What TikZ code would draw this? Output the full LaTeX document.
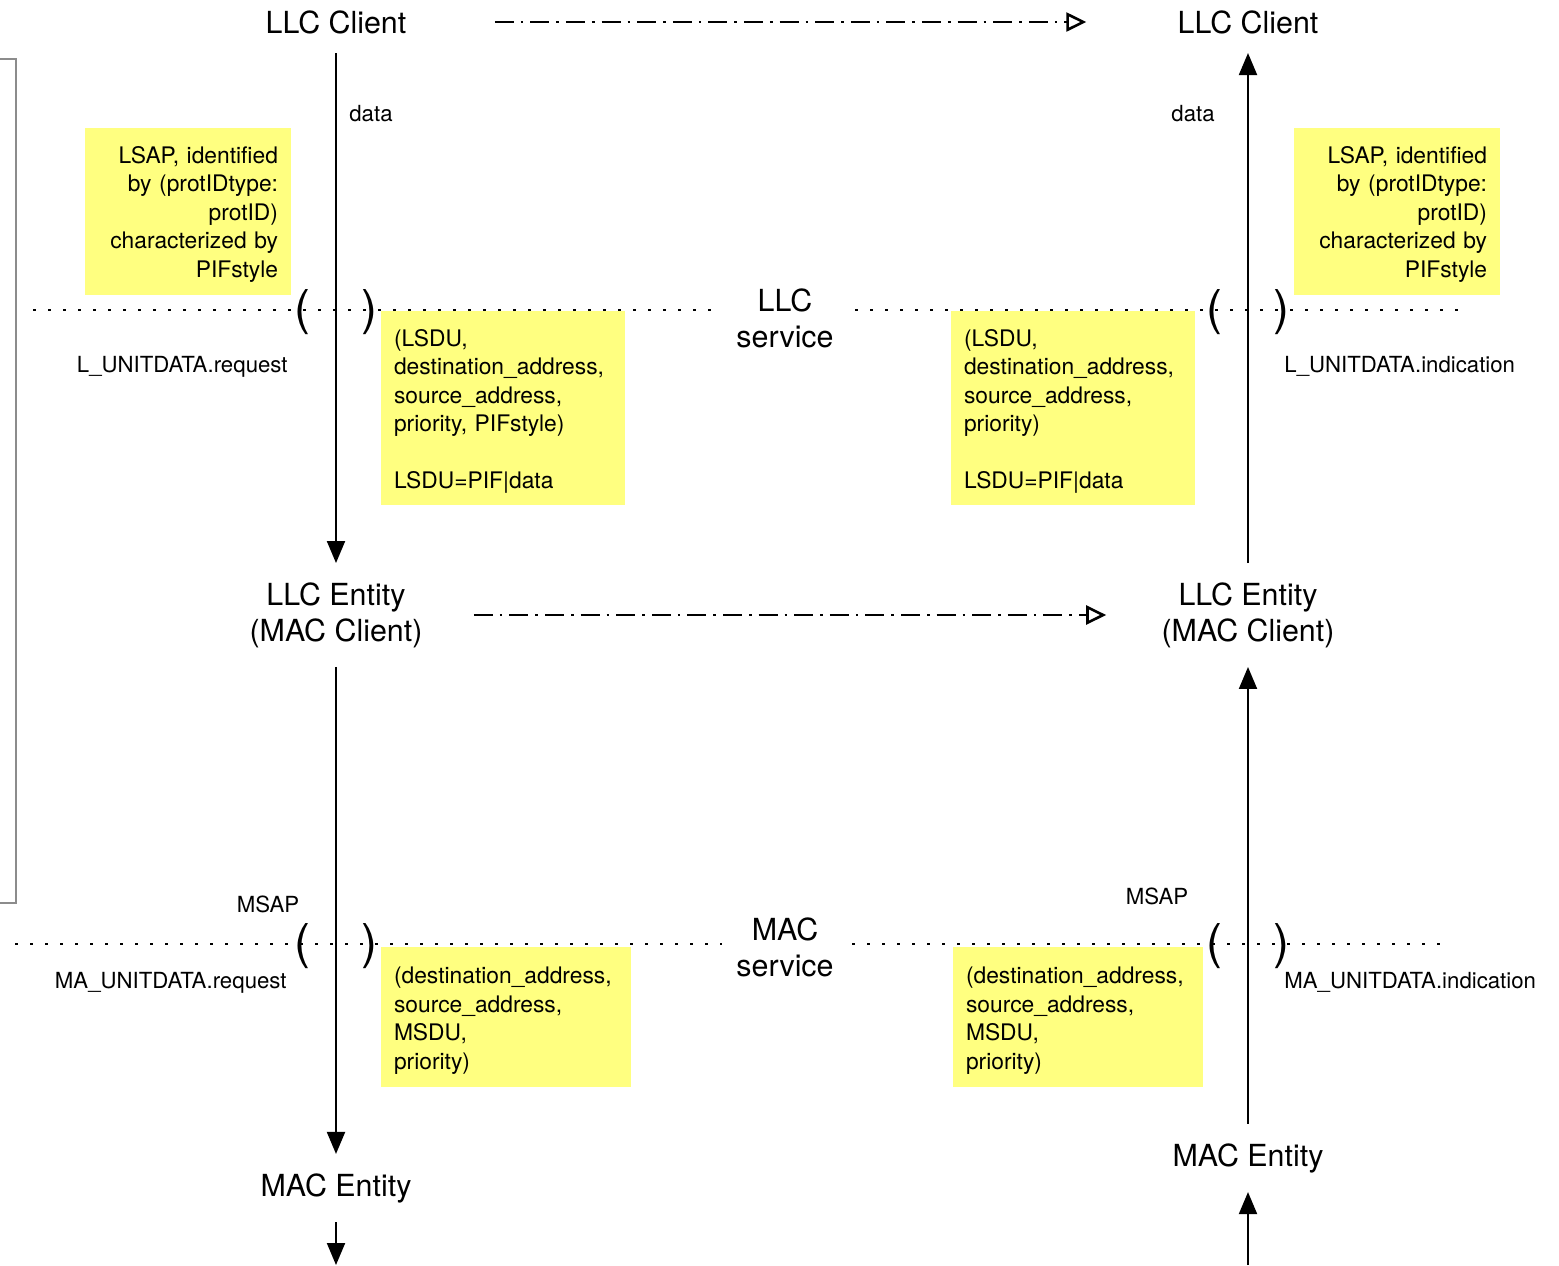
\documentclass[tikz,border=0pt]{standalone}
\usepackage{fontspec}
\setmainfont{TeX Gyre Heros}
\usepackage{xcolor}
\usepackage{tikz}
\usetikzlibrary{arrows.meta,positioning}
\definecolor{noteyellow}{RGB}{255,255,128}
\tikzset{
  ltitle/.style={align=center, inner xsep=0pt, inner ysep=9.5pt, font=\fontsize{15.2}{18}\selectfont},
  llabel/.style={inner sep=0pt, font=\fontsize{11.1}{13}\selectfont},
  lsapnote/.style={fill=noteyellow, align=right, text width=90pt, minimum width=103pt, inner xsep=6.5pt, inner ysep=0pt, text height=17.6pt, text depth=65.9pt, font=\fontsize{11.4}{14.25}\selectfont},
  lsdunote/.style={fill=noteyellow, align=left, text width=109pt, minimum width=122pt, inner xsep=6.5pt, inner ysep=0pt, text height=17.6pt, text depth=79.4pt, font=\fontsize{11.4}{14.25}\selectfont},
  lmsdunote/.style={fill=noteyellow, align=left, text width=112pt, minimum width=125pt, inner xsep=6.5pt, inner ysep=0pt, text height=18.4pt, text depth=51.6pt, font=\fontsize{11.4}{14.25}\selectfont},
  lparen/.style={inner sep=0pt, font=\fontsize{24}{24}\selectfont},
  larrow/.style={-{Triangle[length=11pt,width=9pt]}, line width=1pt},
  lpeer/.style={-{Triangle[open,length=10pt,width=9.5pt]}, line width=1.3pt, dash pattern=on 9.5pt off 3.5pt on 1.3pt off 3.5pt},
  lsap/.style={line width=1.3pt, dash pattern=on 1.4pt off 6.1pt},
  lframe/.style={draw=black!45, line width=1.1pt}
}

\begin{document}
\begin{tikzpicture}[x=0.5pt,y=-0.5pt]
\useasboundingbox (0,0) rectangle (1559,1265);
% frame cut by the left edge
\draw[lframe] (-40,59) rectangle (16,903);

% entities
\node[ltitle] (lclient) at (336,22) {LLC Client};
\node[ltitle] (rclient) at (1248,22) {LLC Client};
\node[ltitle] (lentity) at (336,615) {LLC Entity\\(MAC Client)};
\node[ltitle] (rentity) at (1248,615) {LLC Entity\\(MAC Client)};
\node[ltitle] (lmac) at (336,1188) {MAC Entity};
\node[ltitle] (rmac) at (1248,1158) {MAC Entity};
\node[ltitle] (llcsvc) at (785,318) {LLC\\service};
\node[ltitle] (macsvc) at (785,947) {MAC\\service};

% notes
\node[lsapnote] (lsapl) at (188,211.5) {LSAP, identified\\by (protIDtype:\\protID)\\characterized by\\PIFstyle};
\node[lsapnote] (lsapr) at (1397,211.5) {LSAP, identified\\by (protIDtype:\\protID)\\characterized by\\PIFstyle};
\node[lsdunote] (lsdul) at (503,408) {(LSDU,\\destination\_address,\\source\_address,\\priority, PIFstyle)\\[14.25pt]LSDU=PIF|data};
\node[lsdunote] (lsdur) at (1073,408) {(LSDU,\\destination\_address,\\source\_address,\\priority)\\[14.25pt]LSDU=PIF|data};
\node[lmsdunote] (msdul) at (506,1017) {(destination\_address,\\source\_address,\\MSDU,\\priority)};
\node[lmsdunote] (msdur) at (1078,1017) {(destination\_address,\\source\_address,\\MSDU,\\priority)};

% service access lines
\draw[lsap] (33,310) -- (722,310);
\draw[lsap] (855,310) -- (1468,310);
\draw[lsap] (15,944) -- (722,944);
\draw[lsap] (852,944) -- (1450,944);

% access points
\node[lparen] (lsapopen) at (302,312) {(};
\node[lparen] (lsapclose) at (369,312) {)};
\node[lparen] (rsapopen) at (1214,312) {(};
\node[lparen] (rsapclose) at (1281,312) {)};
\node[lparen] (lmsapopen) at (302,946) {(};
\node[lparen] (lmsapclose) at (369,946) {)};
\node[lparen] (rmsapopen) at (1214,946) {(};
\node[lparen] (rmsapclose) at (1281,946) {)};

% labels
\node[llabel, anchor=west] (ldata) at (349,114) {data};
\node[llabel, anchor=east] (rdata) at (1215,114) {data};
\node[llabel, anchor=base east] (lreq) at (288,372) {L\_UNITDATA.request};
\node[llabel, anchor=base west] (rind) at (1284,372) {L\_UNITDATA.indication};
\node[llabel] (lmsap) at (268,904) {MSAP};
\node[llabel] (rmsap) at (1157,896) {MSAP};
\node[llabel, anchor=base east] (lmreq) at (287,988) {MA\_UNITDATA.request};
\node[llabel, anchor=base west] (rmind) at (1284,988) {MA\_UNITDATA.indication};

\coordinate (lbottom) at (336,1265);
\coordinate (rbottom) at (1248,1265);

\draw[larrow] (lclient) -- (lentity);
\draw[larrow] (rentity) -- (rclient);
\draw[larrow] (lentity) -- (lmac);
\draw[larrow] (rmac) -- (rentity);
\draw[larrow] (lmac) -- (lbottom);
\draw[larrow] (rbottom) -- (rmac);
\draw[lpeer, shorten <=44pt, shorten >=45.5pt] (lclient) -- (rclient);
\draw[lpeer, yshift=1pt, shorten <=25.5pt, shorten >=27.5pt] (lentity) -- (rentity);
\end{tikzpicture}
\end{document}
